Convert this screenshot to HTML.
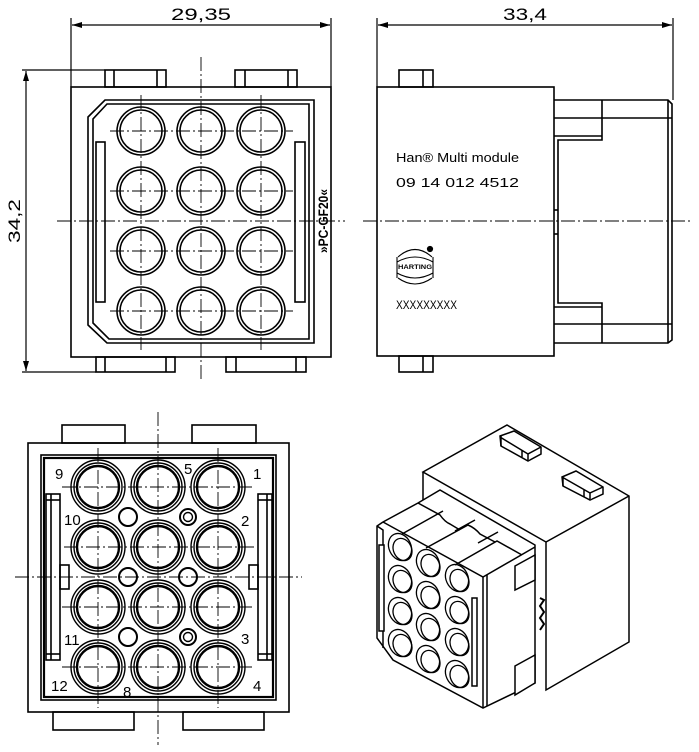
<!DOCTYPE html>
<html><head><meta charset="utf-8"><style>
html,body{margin:0;padding:0;background:#fff;}
svg{display:block;}
text{font-family:"Liberation Sans",sans-serif;fill:#000;}
</style></head><body>
<svg width="699" height="752" viewBox="0 0 699 752" xmlns="http://www.w3.org/2000/svg">
<defs>
<marker id="ar" viewBox="0 0 10 6" refX="10" refY="3" markerWidth="10" markerHeight="6" orient="auto-start-reverse" markerUnits="userSpaceOnUse"><path d="M0,0 L10,3 L0,6z" fill="#000"/></marker>
</defs>
<g fill="none" stroke="#000" stroke-width="1.2">
<!-- ===== TOP-LEFT VIEW ===== -->
<line x1="71" y1="18" x2="71" y2="87"/><line x1="331" y1="18" x2="331" y2="87"/>
<line x1="72" y1="25" x2="330" y2="25" marker-start="url(#ar)" marker-end="url(#ar)"/>
<line x1="22" y1="70" x2="105" y2="70"/><line x1="22" y1="372" x2="96" y2="372"/>
<line x1="26" y1="71" x2="26" y2="371" marker-start="url(#ar)" marker-end="url(#ar)"/>
<g stroke-width="1.6">
<rect x="71" y="87" width="260" height="270"/>
<rect x="105" y="70" width="61" height="17"/><line x1="114" y1="70" x2="114" y2="87"/><line x1="157" y1="70" x2="157" y2="87"/>
<rect x="235" y="70" width="62" height="17"/><line x1="245" y1="70" x2="245" y2="87"/><line x1="288" y1="70" x2="288" y2="87"/>
<rect x="96" y="357" width="79" height="15"/><line x1="105" y1="357" x2="105" y2="372"/><line x1="166" y1="357" x2="166" y2="372"/>
<rect x="226" y="357" width="80" height="15"/><line x1="236" y1="357" x2="236" y2="372"/><line x1="296" y1="357" x2="296" y2="372"/>
<path d="M105,100 L314,100 L314,343 L107,343 L88,325 L88,117 Z"/>
<path d="M107,104 L309,104 L309,339 L109,339 L93,323 L93,119 Z"/>
<rect x="96" y="142" width="9" height="160"/><rect x="295" y="142" width="10" height="160"/>
</g>
<g stroke-width="1.6">
<circle cx="141" cy="131" r="24"/><circle cx="141" cy="131" r="21"/>
<circle cx="201" cy="131" r="24"/><circle cx="201" cy="131" r="21"/>
<circle cx="261" cy="131" r="24"/><circle cx="261" cy="131" r="21"/>
<circle cx="141" cy="191" r="24"/><circle cx="141" cy="191" r="21"/>
<circle cx="201" cy="191" r="24"/><circle cx="201" cy="191" r="21"/>
<circle cx="261" cy="191" r="24"/><circle cx="261" cy="191" r="21"/>
<circle cx="141" cy="251" r="24"/><circle cx="141" cy="251" r="21"/>
<circle cx="201" cy="251" r="24"/><circle cx="201" cy="251" r="21"/>
<circle cx="261" cy="251" r="24"/><circle cx="261" cy="251" r="21"/>
<circle cx="141" cy="311" r="24"/><circle cx="141" cy="311" r="21"/>
<circle cx="201" cy="311" r="24"/><circle cx="201" cy="311" r="21"/>
<circle cx="261" cy="311" r="24"/><circle cx="261" cy="311" r="21"/>
</g>
<g stroke-width="0.9" stroke-dasharray="14,3,2,3">
<line x1="201" y1="57" x2="201" y2="382"/><line x1="57" y1="221" x2="345" y2="221"/>
<line x1="141" y1="95" x2="141" y2="350"/><line x1="261" y1="95" x2="261" y2="350"/>
<line x1="110" y1="131" x2="293" y2="131"/><line x1="110" y1="191" x2="293" y2="191"/>
<line x1="110" y1="251" x2="293" y2="251"/><line x1="110" y1="311" x2="293" y2="311"/>
</g>
<!-- ===== TOP-RIGHT VIEW ===== -->
<line x1="377" y1="18" x2="377" y2="87"/><line x1="673" y1="18" x2="673" y2="100"/>
<line x1="378" y1="25" x2="672" y2="25" marker-start="url(#ar)" marker-end="url(#ar)"/>
<g stroke-width="1.6">
<rect x="377" y="87" width="177" height="269"/>
<rect x="399" y="70" width="34" height="17"/><line x1="423" y1="70" x2="423" y2="87"/>
<rect x="399" y="356" width="34" height="16"/><line x1="423" y1="356" x2="423" y2="372"/>
<path d="M554,100 L668,100 L672,104 L672,340 L668,343 L554,343"/>
<line x1="554" y1="118" x2="672" y2="118"/><line x1="554" y1="324" x2="672" y2="324"/>
<line x1="668" y1="100" x2="668" y2="343"/>
<path d="M602,100 L602,140 L558,140 L558,303 L602,303 L602,343"/>
<line x1="554" y1="136" x2="602" y2="136"/><line x1="554" y1="307" x2="602" y2="307"/>
<line x1="554" y1="210" x2="558" y2="210"/><line x1="554" y1="234" x2="558" y2="234"/>
</g>
<line x1="363" y1="221" x2="690" y2="221" stroke-width="0.9" stroke-dasharray="14,3,2,3"/>
<!-- logo -->
<g stroke-width="1.1">
<path d="M398,257 Q415,242 432,257"/><path d="M397,262 Q415,252 433,262"/>
<path d="M397,273 Q415,283 433,273"/><path d="M398,278 Q415,290 432,278"/>
<line x1="397" y1="257" x2="397" y2="278"/><line x1="433" y1="257" x2="433" y2="278"/>
</g>
<circle cx="430" cy="249" r="2.5" fill="#000"/>
<!-- ===== BOTTOM-LEFT VIEW ===== -->
<g stroke-width="1.6">
<rect x="28" y="443" width="261" height="269"/>
<rect x="62" y="425" width="63" height="18"/><rect x="192" y="425" width="64" height="18"/>
<rect x="53" y="712" width="81" height="18"/><rect x="183" y="712" width="81" height="18"/>
<rect x="41" y="455" width="235" height="245"/>
<rect x="44" y="458" width="229" height="239" stroke-width="2.2"/>
<rect x="46" y="494" width="14" height="166"/><line x1="51" y1="494" x2="51" y2="660"/><line x1="46" y1="500" x2="60" y2="500"/><line x1="46" y1="654" x2="60" y2="654"/>
<rect x="258" y="494" width="14" height="166"/><line x1="267" y1="494" x2="267" y2="660"/><line x1="258" y1="500" x2="272" y2="500"/><line x1="258" y1="654" x2="272" y2="654"/>
<rect x="60" y="565" width="9" height="24"/><rect x="249" y="565" width="9" height="24"/>
</g>
<g stroke-width="1.4">
<circle cx="98" cy="487" r="27"/><circle cx="98" cy="487" r="24"/><circle cx="98" cy="487" r="21" stroke-width="2.4"/>
<circle cx="158" cy="487" r="27"/><circle cx="158" cy="487" r="24"/><circle cx="158" cy="487" r="21" stroke-width="2.4"/>
<circle cx="218" cy="487" r="27"/><circle cx="218" cy="487" r="24"/><circle cx="218" cy="487" r="21" stroke-width="2.4"/>
<circle cx="98" cy="547" r="27"/><circle cx="98" cy="547" r="24"/><circle cx="98" cy="547" r="21" stroke-width="2.4"/>
<circle cx="158" cy="547" r="27"/><circle cx="158" cy="547" r="24"/><circle cx="158" cy="547" r="21" stroke-width="2.4"/>
<circle cx="218" cy="547" r="27"/><circle cx="218" cy="547" r="24"/><circle cx="218" cy="547" r="21" stroke-width="2.4"/>
<circle cx="98" cy="607" r="27"/><circle cx="98" cy="607" r="24"/><circle cx="98" cy="607" r="21" stroke-width="2.4"/>
<circle cx="158" cy="607" r="27"/><circle cx="158" cy="607" r="24"/><circle cx="158" cy="607" r="21" stroke-width="2.4"/>
<circle cx="218" cy="607" r="27"/><circle cx="218" cy="607" r="24"/><circle cx="218" cy="607" r="21" stroke-width="2.4"/>
<circle cx="98" cy="667" r="27"/><circle cx="98" cy="667" r="24"/><circle cx="98" cy="667" r="21" stroke-width="2.4"/>
<circle cx="158" cy="667" r="27"/><circle cx="158" cy="667" r="24"/><circle cx="158" cy="667" r="21" stroke-width="2.4"/>
<circle cx="218" cy="667" r="27"/><circle cx="218" cy="667" r="24"/><circle cx="218" cy="667" r="21" stroke-width="2.4"/>
<circle cx="128" cy="517" r="9" stroke-width="2"/>
<circle cx="188" cy="517" r="8" stroke-width="2"/><circle cx="188" cy="517" r="4.5"/>
<circle cx="128" cy="577" r="9" stroke-width="2"/><circle cx="188" cy="577" r="9" stroke-width="2"/>
<circle cx="128" cy="637" r="9" stroke-width="2"/>
<circle cx="188" cy="637" r="8" stroke-width="2"/><circle cx="188" cy="637" r="4.5"/>
</g>
<g stroke-width="0.9" stroke-dasharray="14,3,2,3">
<line x1="158" y1="412" x2="158" y2="745"/><line x1="15" y1="577" x2="302" y2="577"/>
<line x1="98" y1="448" x2="98" y2="708"/><line x1="218" y1="448" x2="218" y2="708"/>
<line x1="62" y1="487" x2="254" y2="487"/><line x1="64" y1="547" x2="254" y2="547"/>
<line x1="62" y1="607" x2="254" y2="607"/><line x1="62" y1="667" x2="254" y2="667"/>
</g>
<!-- ===== ISO VIEW ===== -->
<g stroke-width="1.5" fill="#fff">
<path d="M507,425 L629,496 L629,642 L546,690 L546,542 L423,472 Z"/>
<line x1="546" y1="542" x2="629" y2="496"/>
<path d="M500,436 L514,431 L541,447 L541,454 L528,461 L501,446 Z"/><path d="M501,446 L501,436 M528,461 L528,454 L541,447 M528,454 L500,437 M522,457 L522,450"/>
<path d="M562,477 L576,471 L603,487 L603,494 L590,500 L563,486 Z"/><path d="M563,486 L563,477 M590,500 L590,493 L603,487 M590,493 L562,477 M584,497 L584,490"/>
<path d="M423,472 L423,505"/>
<!-- front block -->
<path d="M383,522 L418,503 L440,490 L535,545 L535,683 L483,708 L393,660 L377,638 L377,526 Z"/>
<path d="M383,522 L483,577 L535,547"/>
<path d="M483,577 L483,708"/><path d="M487,575 L487,706"/>
<!-- stepped top -->
<path d="M418,503 L440,515 Q445,522 450,524 L460,530" fill="none"/>
<path d="M402,534 L443,511" fill="none"/>
<path d="M426,548 L468,525 Q475,528 480,534 L495,542" fill="none"/>
<path d="M455,531 L475,520" fill="none"/>
<path d="M455,565 L497,541 L522,555" fill="none"/>
<path d="M478,543 L498,532" fill="none"/>
<path d="M515,566 L535,555 L535,580 L515,590 Z"/>
<path d="M515,666 L535,655 L535,683 L515,695 Z"/>
<path d="M377,526 L383,530 L383,648" fill="none"/>
<rect x="379" y="545" width="5" height="86"/>
<rect x="472" y="598" width="5" height="88"/>
</g>
<g stroke-width="1.3" fill="none">
<g transform="translate(400,547)">
<ellipse cx="0" cy="0" rx="11" ry="14" transform="rotate(-25)"/><ellipse cx="2.5" cy="2.5" rx="9" ry="11.5" transform="rotate(-25 2.5 2.5)"/>
<ellipse cx="28" cy="16" rx="11" ry="14" transform="rotate(-25 28 16)"/><ellipse cx="30.5" cy="18.5" rx="9" ry="11.5" transform="rotate(-25 30.5 18.5)"/>
<ellipse cx="57" cy="31" rx="11" ry="14" transform="rotate(-25 57 31)"/><ellipse cx="59.5" cy="33.5" rx="9" ry="11.5" transform="rotate(-25 59.5 33.5)"/>
<ellipse cx="0" cy="32" rx="11" ry="14" transform="rotate(-25 0 32)"/><ellipse cx="2.5" cy="34.5" rx="9" ry="11.5" transform="rotate(-25 2.5 34.5)"/>
<ellipse cx="28" cy="48" rx="11" ry="14" transform="rotate(-25 28 48)"/><ellipse cx="30.5" cy="50.5" rx="9" ry="11.5" transform="rotate(-25 30.5 50.5)"/>
<ellipse cx="57" cy="63" rx="11" ry="14" transform="rotate(-25 57 63)"/><ellipse cx="59.5" cy="65.5" rx="9" ry="11.5" transform="rotate(-25 59.5 65.5)"/>
<ellipse cx="0" cy="64" rx="11" ry="14" transform="rotate(-25 0 64)"/><ellipse cx="2.5" cy="66.5" rx="9" ry="11.5" transform="rotate(-25 2.5 66.5)"/>
<ellipse cx="28" cy="80" rx="11" ry="14" transform="rotate(-25 28 80)"/><ellipse cx="30.5" cy="82.5" rx="9" ry="11.5" transform="rotate(-25 30.5 82.5)"/>
<ellipse cx="57" cy="95" rx="11" ry="14" transform="rotate(-25 57 95)"/><ellipse cx="59.5" cy="97.5" rx="9" ry="11.5" transform="rotate(-25 59.5 97.5)"/>
<ellipse cx="0" cy="96" rx="11" ry="14" transform="rotate(-25 0 96)"/><ellipse cx="2.5" cy="98.5" rx="9" ry="11.5" transform="rotate(-25 2.5 98.5)"/>
<ellipse cx="28" cy="112" rx="11" ry="14" transform="rotate(-25 28 112)"/><ellipse cx="30.5" cy="114.5" rx="9" ry="11.5" transform="rotate(-25 30.5 114.5)"/>
<ellipse cx="57" cy="127" rx="11" ry="14" transform="rotate(-25 57 127)"/><ellipse cx="59.5" cy="129.5" rx="9" ry="11.5" transform="rotate(-25 59.5 129.5)"/>
</g>
</g>
<path d="M540,598 L544,600 L540,606 L544,612 L540,618 L544,624 L540,630" stroke-width="2"/>
</g>
<!-- TEXT -->
<text x="201" y="20" font-size="17" text-anchor="middle" textLength="60" lengthAdjust="spacingAndGlyphs">29,35</text>
<text x="525" y="20" font-size="17" text-anchor="middle" textLength="44" lengthAdjust="spacingAndGlyphs">33,4</text>
<text transform="translate(20,221) rotate(-90)" font-size="17" text-anchor="middle" textLength="44" lengthAdjust="spacingAndGlyphs">34,2</text>
<text transform="translate(328,221) rotate(-90)" font-size="14" font-weight="bold" text-anchor="middle" textLength="64" lengthAdjust="spacingAndGlyphs">»PC-GF20«</text>
<text x="396" y="162" font-size="13" textLength="123" lengthAdjust="spacingAndGlyphs">Han® Multi module</text>
<text x="396" y="187" font-size="13" textLength="123" lengthAdjust="spacingAndGlyphs">09 14 012 4512</text>
<text x="398" y="269" font-size="6.5" font-weight="bold" textLength="34" lengthAdjust="spacingAndGlyphs">HARTING</text>
<text x="396" y="309" font-size="12" textLength="61" lengthAdjust="spacingAndGlyphs">XXXXXXXXX</text>
<g font-size="15">
<text x="55" y="479">9</text><text x="184" y="474">5</text><text x="253" y="479">1</text>
<text x="64" y="525">10</text><text x="241" y="526">2</text>
<text x="64" y="645">11</text><text x="241" y="644">3</text>
<text x="51" y="691">12</text><text x="123" y="697">8</text><text x="253" y="691">4</text>
</g>
</svg>
</body></html>
